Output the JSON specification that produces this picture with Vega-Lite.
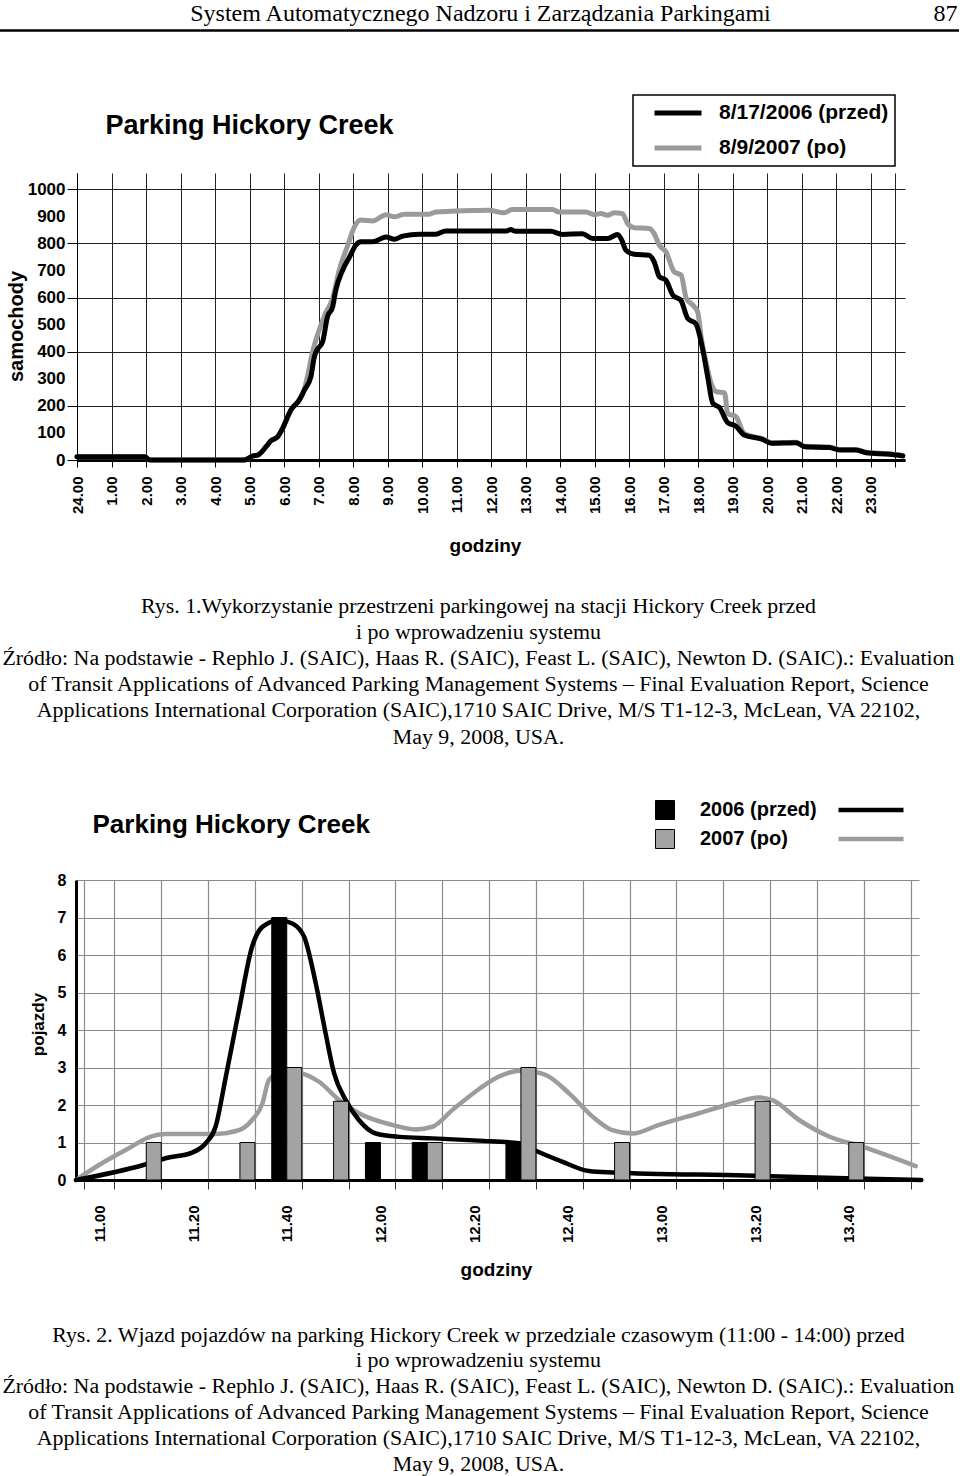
{
  "$schema": "https://vega.github.io/schema/vega-lite/v6.json",
  "padding": {"left": -8, "top": 0, "right": 0, "bottom": 0},
  "background": "white",
  "bounds": "flush",
  "spacing": 0,
  "resolve": {
    "scale": {"color": "independent", "fill": "independent", "stroke": "independent"},
    "legend": {"color": "independent", "fill": "independent", "stroke": "independent"}
  },
  "config": {
    "view": {"stroke": null},
    "axis": {"labelFont": "Liberation Sans", "titleFont": "Liberation Sans", "labelColor": "black", "titleColor": "black", "titleLimit": 2000, "labelFontWeight": "bold", "labelLimit": 400, "minExtent": 0},
    "axisY": {"minExtent": 0},
    "legend": {"strokeWidth": 1.5}
  },
  "datasets": {
    "c1": [
      {"h":0,"v":12,"seria":"8/17/2006 (przed)"},{"h":1.97,"v":12,"seria":"8/17/2006 (przed)"},{"h":2.1,"v":0,"seria":"8/17/2006 (przed)"},{"h":4.85,"v":0,"seria":"8/17/2006 (przed)"},{"h":5.1,"v":15,"seria":"8/17/2006 (przed)"},{"h":5.24,"v":18,"seria":"8/17/2006 (przed)"},{"h":5.48,"v":49,"seria":"8/17/2006 (przed)"},{"h":5.62,"v":71,"seria":"8/17/2006 (przed)"},{"h":5.82,"v":86,"seria":"8/17/2006 (przed)"},{"h":5.96,"v":117,"seria":"8/17/2006 (przed)"},{"h":6.2,"v":185,"seria":"8/17/2006 (przed)"},{"h":6.44,"v":221,"seria":"8/17/2006 (przed)"},{"h":6.59,"v":258,"seria":"8/17/2006 (przed)"},{"h":6.78,"v":308,"seria":"8/17/2006 (przed)"},{"h":6.88,"v":381,"seria":"8/17/2006 (przed)"},{"h":6.93,"v":400,"seria":"8/17/2006 (przed)"},{"h":7.12,"v":437,"seria":"8/17/2006 (przed)"},{"h":7.26,"v":529,"seria":"8/17/2006 (przed)"},{"h":7.41,"v":566,"seria":"8/17/2006 (przed)"},{"h":7.5,"v":627,"seria":"8/17/2006 (przed)"},{"h":7.7,"v":701,"seria":"8/17/2006 (przed)"},{"h":7.9,"v":750,"seria":"8/17/2006 (przed)"},{"h":8.08,"v":793,"seria":"8/17/2006 (przed)"},{"h":8.23,"v":806,"seria":"8/17/2006 (przed)"},{"h":8.57,"v":806,"seria":"8/17/2006 (przed)"},{"h":8.96,"v":824,"seria":"8/17/2006 (przed)"},{"h":9.2,"v":815,"seria":"8/17/2006 (przed)"},{"h":9.44,"v":827,"seria":"8/17/2006 (przed)"},{"h":9.93,"v":834,"seria":"8/17/2006 (przed)"},{"h":10.4,"v":834,"seria":"8/17/2006 (przed)"},{"h":10.69,"v":846,"seria":"8/17/2006 (przed)"},{"h":12.45,"v":846,"seria":"8/17/2006 (przed)"},{"h":12.57,"v":851,"seria":"8/17/2006 (przed)"},{"h":12.71,"v":845,"seria":"8/17/2006 (przed)"},{"h":13.73,"v":845,"seria":"8/17/2006 (przed)"},{"h":14.07,"v":833,"seria":"8/17/2006 (przed)"},{"h":14.65,"v":836,"seria":"8/17/2006 (przed)"},{"h":14.94,"v":818,"seria":"8/17/2006 (przed)"},{"h":15.38,"v":818,"seria":"8/17/2006 (przed)"},{"h":15.67,"v":833,"seria":"8/17/2006 (przed)"},{"h":15.79,"v":812,"seria":"8/17/2006 (przed)"},{"h":15.91,"v":775,"seria":"8/17/2006 (przed)"},{"h":16.15,"v":760,"seria":"8/17/2006 (przed)"},{"h":16.58,"v":756,"seria":"8/17/2006 (przed)"},{"h":16.73,"v":732,"seria":"8/17/2006 (przed)"},{"h":16.88,"v":677,"seria":"8/17/2006 (przed)"},{"h":17.07,"v":664,"seria":"8/17/2006 (przed)"},{"h":17.27,"v":609,"seria":"8/17/2006 (przed)"},{"h":17.51,"v":588,"seria":"8/17/2006 (przed)"},{"h":17.7,"v":523,"seria":"8/17/2006 (przed)"},{"h":17.94,"v":502,"seria":"8/17/2006 (przed)"},{"h":18.14,"v":406,"seria":"8/17/2006 (przed)"},{"h":18.28,"v":308,"seria":"8/17/2006 (przed)"},{"h":18.43,"v":209,"seria":"8/17/2006 (przed)"},{"h":18.62,"v":194,"seria":"8/17/2006 (przed)"},{"h":18.86,"v":138,"seria":"8/17/2006 (przed)"},{"h":19.1,"v":125,"seria":"8/17/2006 (przed)"},{"h":19.34,"v":92,"seria":"8/17/2006 (przed)"},{"h":19.87,"v":76,"seria":"8/17/2006 (przed)"},{"h":20.12,"v":62,"seria":"8/17/2006 (przed)"},{"h":20.85,"v":64,"seria":"8/17/2006 (przed)"},{"h":21.09,"v":49,"seria":"8/17/2006 (przed)"},{"h":21.81,"v":46,"seria":"8/17/2006 (przed)"},{"h":22.1,"v":37,"seria":"8/17/2006 (przed)"},{"h":22.58,"v":37,"seria":"8/17/2006 (przed)"},{"h":22.87,"v":27,"seria":"8/17/2006 (przed)"},{"h":23.55,"v":21,"seria":"8/17/2006 (przed)"},{"h":23.94,"v":15,"seria":"8/17/2006 (przed)"},
      {"h":0,"v":12,"seria":"8/9/2007 (po)"},{"h":1.97,"v":12,"seria":"8/9/2007 (po)"},{"h":2.1,"v":0,"seria":"8/9/2007 (po)"},{"h":4.85,"v":0,"seria":"8/9/2007 (po)"},{"h":5.1,"v":15,"seria":"8/9/2007 (po)"},{"h":5.24,"v":18,"seria":"8/9/2007 (po)"},{"h":5.48,"v":49,"seria":"8/9/2007 (po)"},{"h":5.62,"v":71,"seria":"8/9/2007 (po)"},{"h":5.82,"v":86,"seria":"8/9/2007 (po)"},{"h":5.96,"v":117,"seria":"8/9/2007 (po)"},{"h":6.2,"v":185,"seria":"8/9/2007 (po)"},{"h":6.44,"v":221,"seria":"8/9/2007 (po)"},{"h":6.59,"v":262,"seria":"8/9/2007 (po)"},{"h":6.7,"v":320,"seria":"8/9/2007 (po)"},{"h":6.83,"v":400,"seria":"8/9/2007 (po)"},{"h":7.02,"v":480,"seria":"8/9/2007 (po)"},{"h":7.2,"v":541,"seria":"8/9/2007 (po)"},{"h":7.41,"v":597,"seria":"8/9/2007 (po)"},{"h":7.6,"v":701,"seria":"8/9/2007 (po)"},{"h":7.85,"v":793,"seria":"8/9/2007 (po)"},{"h":8.04,"v":861,"seria":"8/9/2007 (po)"},{"h":8.23,"v":886,"seria":"8/9/2007 (po)"},{"h":8.57,"v":883,"seria":"8/9/2007 (po)"},{"h":8.96,"v":906,"seria":"8/9/2007 (po)"},{"h":9.2,"v":898,"seria":"8/9/2007 (po)"},{"h":9.49,"v":908,"seria":"8/9/2007 (po)"},{"h":10.21,"v":908,"seria":"8/9/2007 (po)"},{"h":10.4,"v":916,"seria":"8/9/2007 (po)"},{"h":11.94,"v":922,"seria":"8/9/2007 (po)"},{"h":12.38,"v":913,"seria":"8/9/2007 (po)"},{"h":12.62,"v":925,"seria":"8/9/2007 (po)"},{"h":13.78,"v":925,"seria":"8/9/2007 (po)"},{"h":13.97,"v":916,"seria":"8/9/2007 (po)"},{"h":14.75,"v":916,"seria":"8/9/2007 (po)"},{"h":14.99,"v":906,"seria":"8/9/2007 (po)"},{"h":15.18,"v":910,"seria":"8/9/2007 (po)"},{"h":15.38,"v":904,"seria":"8/9/2007 (po)"},{"h":15.57,"v":913,"seria":"8/9/2007 (po)"},{"h":15.81,"v":910,"seria":"8/9/2007 (po)"},{"h":15.96,"v":873,"seria":"8/9/2007 (po)"},{"h":16.15,"v":858,"seria":"8/9/2007 (po)"},{"h":16.58,"v":855,"seria":"8/9/2007 (po)"},{"h":16.73,"v":836,"seria":"8/9/2007 (po)"},{"h":16.88,"v":793,"seria":"8/9/2007 (po)"},{"h":17.07,"v":769,"seria":"8/9/2007 (po)"},{"h":17.31,"v":695,"seria":"8/9/2007 (po)"},{"h":17.51,"v":683,"seria":"8/9/2007 (po)"},{"h":17.66,"v":597,"seria":"8/9/2007 (po)"},{"h":17.85,"v":572,"seria":"8/9/2007 (po)"},{"h":17.99,"v":547,"seria":"8/9/2007 (po)"},{"h":18.09,"v":455,"seria":"8/9/2007 (po)"},{"h":18.24,"v":357,"seria":"8/9/2007 (po)"},{"h":18.38,"v":283,"seria":"8/9/2007 (po)"},{"h":18.53,"v":252,"seria":"8/9/2007 (po)"},{"h":18.77,"v":248,"seria":"8/9/2007 (po)"},{"h":18.86,"v":172,"seria":"8/9/2007 (po)"},{"h":19.1,"v":160,"seria":"8/9/2007 (po)"},{"h":19.34,"v":98,"seria":"8/9/2007 (po)"},{"h":19.87,"v":78,"seria":"8/9/2007 (po)"},{"h":20.12,"v":64,"seria":"8/9/2007 (po)"},{"h":20.85,"v":66,"seria":"8/9/2007 (po)"},{"h":21.09,"v":51,"seria":"8/9/2007 (po)"},{"h":21.81,"v":48,"seria":"8/9/2007 (po)"},{"h":22.1,"v":39,"seria":"8/9/2007 (po)"},{"h":22.58,"v":39,"seria":"8/9/2007 (po)"},{"h":22.87,"v":29,"seria":"8/9/2007 (po)"},{"h":23.55,"v":23,"seria":"8/9/2007 (po)"},{"h":23.94,"v":17,"seria":"8/9/2007 (po)"}
    ],
    "bars": [
      {"t":"11.10","rok":"2007 (po)","v":1},
      {"t":"11.30","rok":"2007 (po)","v":1},
      {"t":"11.40","rok":"2006 (przed)","v":7},
      {"t":"11.40","rok":"2007 (po)","v":3},
      {"t":"11.50","rok":"2007 (po)","v":2.1},
      {"t":"12.00","rok":"2006 (przed)","v":1},
      {"t":"12.10","rok":"2006 (przed)","v":1},
      {"t":"12.10","rok":"2007 (po)","v":1},
      {"t":"12.30","rok":"2006 (przed)","v":1},
      {"t":"12.30","rok":"2007 (po)","v":3},
      {"t":"12.50","rok":"2007 (po)","v":1},
      {"t":"13.20","rok":"2007 (po)","v":2.1},
      {"t":"13.40","rok":"2007 (po)","v":1}
    ],
    "c2": [
      {"m":0,"v":0,"seria":"2006"},{"m":14.4,"v":0.4,"seria":"2006"},{"m":19.1,"v":0.58,"seria":"2006"},{"m":24.8,"v":0.73,"seria":"2006"},{"m":27.7,"v":0.98,"seria":"2006"},{"m":29.8,"v":1.42,"seria":"2006"},{"m":32,"v":2.76,"seria":"2006"},{"m":34.8,"v":4.53,"seria":"2006"},{"m":37.6,"v":6.22,"seria":"2006"},{"m":39.8,"v":6.75,"seria":"2006"},{"m":43.4,"v":6.93,"seria":"2006"},{"m":46.2,"v":6.84,"seria":"2006"},{"m":48.7,"v":6.49,"seria":"2006"},{"m":51.2,"v":5.24,"seria":"2006"},{"m":53.3,"v":3.91,"seria":"2006"},{"m":55.1,"v":2.85,"seria":"2006"},{"m":57.6,"v":2.13,"seria":"2006"},{"m":60.4,"v":1.6,"seria":"2006"},{"m":64,"v":1.24,"seria":"2006"},{"m":69,"v":1.15,"seria":"2006"},{"m":76.1,"v":1.11,"seria":"2006"},{"m":86,"v":1.05,"seria":"2006"},{"m":94.6,"v":0.98,"seria":"2006"},{"m":97.8,"v":0.8,"seria":"2006"},{"m":103.8,"v":0.49,"seria":"2006"},{"m":109.5,"v":0.24,"seria":"2006"},{"m":114.5,"v":0.2,"seria":"2006"},{"m":143,"v":0.12,"seria":"2006"},{"m":164.4,"v":0.05,"seria":"2006"},{"m":180.5,"v":0,"seria":"2006"},
      {"m":0,"v":0,"seria":"2007"},{"m":4.9,"v":0.4,"seria":"2007"},{"m":10.6,"v":0.8,"seria":"2007"},{"m":16.3,"v":1.17,"seria":"2007"},{"m":19.1,"v":1.23,"seria":"2007"},{"m":29.8,"v":1.23,"seria":"2007"},{"m":34.8,"v":1.33,"seria":"2007"},{"m":37.6,"v":1.6,"seria":"2007"},{"m":39.8,"v":2.04,"seria":"2007"},{"m":41.2,"v":2.67,"seria":"2007"},{"m":43.4,"v":2.85,"seria":"2007"},{"m":47.6,"v":2.85,"seria":"2007"},{"m":51.9,"v":2.62,"seria":"2007"},{"m":56.2,"v":2.13,"seria":"2007"},{"m":60.4,"v":1.78,"seria":"2007"},{"m":67.5,"v":1.47,"seria":"2007"},{"m":72.5,"v":1.35,"seria":"2007"},{"m":76.1,"v":1.42,"seria":"2007"},{"m":80.4,"v":1.87,"seria":"2007"},{"m":86,"v":2.42,"seria":"2007"},{"m":90.3,"v":2.76,"seria":"2007"},{"m":95.3,"v":2.92,"seria":"2007"},{"m":100.3,"v":2.8,"seria":"2007"},{"m":105.3,"v":2.31,"seria":"2007"},{"m":110.3,"v":1.69,"seria":"2007"},{"m":114.5,"v":1.33,"seria":"2007"},{"m":118.8,"v":1.24,"seria":"2007"},{"m":124.5,"v":1.47,"seria":"2007"},{"m":133,"v":1.78,"seria":"2007"},{"m":140.1,"v":2.04,"seria":"2007"},{"m":145.8,"v":2.2,"seria":"2007"},{"m":148.7,"v":2.13,"seria":"2007"},{"m":154.4,"v":1.6,"seria":"2007"},{"m":160.8,"v":1.16,"seria":"2007"},{"m":167.9,"v":0.89,"seria":"2007"},{"m":179.3,"v":0.37,"seria":"2007"}
    ]
  },
  "vconcat": [
    {
      "width": 960, "height": 30,
      "view": {"fill": "white", "stroke": null},
      "data": {"values": []},
      "mark": "point",
      "encoding": {
        "x": {"field": "a", "type": "quantitative", "scale": {"domain": [0, 1]},
          "axis": {"orient": "bottom", "domain": true, "domainColor": "black", "domainWidth": 2.5, "ticks": false, "labels": false, "grid": false,
            "title": "System Automatycznego Nadzoru i Zarządzania Parkingami", "titleFont": "Liberation Serif", "titleFontWeight": "normal", "titleFontSize": 24,
            "titleX": 481, "titleY": -10, "titleAlign": "center", "titleBaseline": "alphabetic"}},
        "y": {"field": "b", "type": "quantitative", "scale": {"domain": [0, 1]},
          "axis": {"orient": "right", "domain": false, "ticks": false, "labels": false, "grid": false,
            "title": "87", "titleAngle": 0, "titleFont": "Liberation Serif", "titleFontWeight": "normal", "titleFontSize": 24,
            "titleX": -2, "titleY": 20, "titleAlign": "right", "titleBaseline": "alphabetic"}}
      }
    },
    {
      "width": 960, "height": 143,
      "data": {"values": []},
      "mark": "point",
      "encoding": {
        "x": {"field": "a", "type": "quantitative", "scale": {"domain": [0, 1]},
          "axis": {"orient": "bottom", "domain": false, "ticks": false, "labels": false, "grid": false,
            "title": "Parking Hickory Creek", "titleFontSize": 27, "titleFontWeight": "bold",
            "titleX": 106, "titleY": -40, "titleAlign": "left", "titleBaseline": "alphabetic"}}
      }
    },
    {
      "width": 960, "height": 287,
      "data": {"name": "c1"},
      "encoding": {
        "x": {"field": "h", "type": "quantitative",
          "scale": {"domain": [0, 24], "range": [78, 906], "nice": false, "zero": false},
          "axis": {"orient": "bottom", "values": [0,1,2,3,4,5,6,7,8,9,10,11,12,13,14,15,16,17,18,19,20,21,22,23,23.7],
            "labelExpr": "datum.value == 0 ? '24.00' : (datum.value % 1 == 0 ? datum.value + '.00' : '')",
            "labelAngle": 270, "labelAlign": "right", "labelBaseline": "middle", "labelFontSize": 15, "labelPadding": 9,
            "labelOverlap": false, "labelFlush": false,
            "tickSize": 7, "tickColor": "black", "tickWidth": 1,
            "grid": true, "gridColor": "#222222", "gridWidth": 1,
            "domain": true, "domainColor": "black", "domainWidth": 3,
            "title": "godziny", "titleFontSize": 19, "titleFontWeight": "bold",
            "titleX": 486, "titleY": 91, "titleAlign": "center", "titleBaseline": "alphabetic"}},
        "y": {"field": "v", "type": "quantitative",
          "scale": {"domain": [0, 1060], "nice": false},
          "axis": {"orient": "left", "offset": -78, "values": [0,100,200,300,400,500,600,700,800,900,1000], "format": "d",
            "labelFontSize": 17, "labelPadding": 2,
            "tickSize": 10, "tickColor": "black",
            "tickOpacity": {"condition": {"test": "datum.value % 200 == 0", "value": 1}, "value": 0},
            "grid": true, "gridColor": "#222222", "gridWidth": 1,
            "gridOpacity": {"condition": {"test": "datum.value % 200 == 0", "value": 1}, "value": 0},
            "domain": true, "domainColor": "black", "domainWidth": 1,
            "title": "samochody", "titleFontSize": 20, "titleFontWeight": "bold", "titleAngle": 270,
            "titleX": -61, "titleY": 153, "titleAlign": "center", "titleBaseline": "middle"}},
        "color": {"field": "seria", "type": "nominal",
          "scale": {"domain": ["8/17/2006 (przed)", "8/9/2007 (po)"], "range": ["#000000", "#9a9a9a"]},
          "legend": {"orient": "none", "legendX": 634, "legendY": -78, "direction": "vertical", "title": null,
            "symbolType": "stroke", "symbolSize": 2209, "symbolStrokeWidth": 5, "symbolOffset": 13,
            "labelFont": "Liberation Sans", "labelFontWeight": "bold", "labelFontSize": 21, "labelColor": "black",
            "labelOffset": 15, "labelLimit": 400, "clipHeight": 24, "rowPadding": 11, "padding": 6,
            "strokeColor": "black"}}
      },
      "layer": [
        {"transform": [{"filter": "datum.seria == '8/9/2007 (po)'"}],
         "mark": {"type": "line", "strokeWidth": 5, "interpolate": "monotone", "strokeJoin": "round", "strokeCap": "round"}},
        {"transform": [{"filter": "datum.seria == '8/17/2006 (przed)'"}],
         "mark": {"type": "line", "strokeWidth": 5, "interpolate": "monotone", "strokeJoin": "round", "strokeCap": "round"}}
      ]
    },
    {
      "width": 960, "height": 420,
      "data": {"values": []},
      "mark": "point",
      "encoding": {
        "x": {"field": "a", "type": "quantitative", "scale": {"domain": [0, 1]},
          "axis": {"orient": "bottom", "domain": false, "ticks": false, "labels": false, "grid": false,
            "title": "Parking Hickory Creek", "titleFontSize": 26, "titleFontWeight": "bold",
            "titleX": 93, "titleY": -48, "titleAlign": "left", "titleBaseline": "alphabetic"}},
        "y": {"field": "b", "type": "quantitative", "scale": {"domain": [0, 1]},
          "axis": {"orient": "right", "domain": false, "ticks": false, "labels": false, "grid": false,
            "title": ["Rys. 1.Wykorzystanie przestrzeni parkingowej na stacji Hickory Creek przed", "i po wprowadzeniu systemu", "Źródło: Na podstawie - Rephlo J. (SAIC), Haas R. (SAIC), Feast L. (SAIC), Newton D. (SAIC).: Evaluation", "of Transit Applications of Advanced Parking Management Systems – Final Evaluation Report, Science", "Applications International Corporation (SAIC),1710 SAIC Drive, M/S T1-12-3, McLean, VA 22102,", "May 9, 2008, USA."],
            "titleAngle": 0, "titleFont": "Liberation Serif", "titleFontWeight": "normal", "titleFontSize": 21.9, "titleLineHeight": 26.2,
            "titleX": -481, "titleY": 152, "titleAlign": "center", "titleBaseline": "alphabetic"}}
      }
    },
    {
      "width": 960, "height": 300,
      "resolve": {"scale": {"x": "independent"}},
      "encoding": {
        "y": {"field": "v", "type": "quantitative", "scale": {"domain": [0, 8], "nice": false},
          "axis": {"orient": "left", "offset": -77, "values": [0,1,2,3,4,5,6,7,8],
            "labelFontSize": 16, "labelPadding": 10, "ticks": false,
            "grid": true, "gridColor": "#8a8a8a", "gridWidth": 1.2,
            "domain": true, "domainColor": "black", "domainWidth": 3,
            "title": "pojazdy", "titleFontSize": 17, "titleFontWeight": "bold", "titleAngle": 270,
            "titleX": -38, "titleY": 144, "titleAlign": "center", "titleBaseline": "middle"}}
      },
      "layer": [
        {
          "data": {"name": "c2"},
          "transform": [{"filter": "datum.seria == '2007'"}],
          "mark": {"type": "line", "strokeWidth": 4.5, "interpolate": "monotone", "strokeCap": "round"},
          "encoding": {
            "x": {"field": "m", "type": "quantitative", "scale": {"domain": [0, 180], "range": [77, 920], "nice": false, "zero": false}, "axis": null},
            "stroke": {"field": "seria", "type": "nominal", "scale": {"domain": ["2006", "2007"], "range": ["#000000", "#9c9c9c"]},
              "legend": {"orient": "none", "legendX": 837, "legendY": -80, "direction": "vertical", "title": null,
                "symbolType": "stroke", "symbolSize": 4225, "symbolStrokeWidth": 4.5, "labelExpr": "''",
                "clipHeight": 20, "rowPadding": 9, "padding": 0, "labelOffset": 0}}
          }
        },
        {
          "data": {"name": "c2"},
          "transform": [{"filter": "datum.seria == '2006'"}],
          "mark": {"type": "line", "strokeWidth": 4.5, "interpolate": "monotone", "strokeCap": "round"},
          "encoding": {
            "x": {"field": "m", "type": "quantitative", "scale": {"domain": [0, 180], "range": [77, 920], "nice": false, "zero": false}, "axis": null},
            "stroke": {"field": "seria", "type": "nominal", "scale": {"domain": ["2006", "2007"], "range": ["#000000", "#9c9c9c"]}}
          }
        },
        {
          "data": {"name": "bars"},
          "mark": {"type": "bar", "stroke": "black", "strokeWidth": 1},
          "encoding": {
            "x": {"field": "t", "type": "nominal",
              "scale": {"domain": ["11.00","11.10","11.20","11.30","11.40","11.50","12.00","12.10","12.20","12.30","12.40","12.50","13.00","13.10","13.20","13.30","13.40","13.50"],
                "range": [77, 920], "paddingInner": 0.36, "paddingOuter": 0.18},
              "axis": {"orient": "bottom", "tickBand": "extent",
                "labelExpr": "indexof(['11.00','11.20','11.40','12.00','12.20','12.40','13.00','13.20','13.40'], datum.value) >= 0 ? datum.value : ''",
                "labelAngle": 270, "labelAlign": "right", "labelBaseline": "middle", "labelFontSize": 15, "labelPadding": 16,
                "labelOverlap": false,
                "tickSize": 9, "tickColor": "#333333", "tickWidth": 1,
                "grid": true, "gridColor": "#8a8a8a", "gridWidth": 1.2,
                "domain": true, "domainColor": "black", "domainWidth": 3,
                "title": "godziny", "titleFontSize": 19, "titleFontWeight": "bold",
                "titleX": 497, "titleY": 95, "titleAlign": "center", "titleBaseline": "alphabetic"}},
            "xOffset": {"field": "rok", "type": "nominal", "scale": {"domain": ["2006 (przed)", "2007 (po)"]}},
            "fill": {"field": "rok", "type": "nominal", "scale": {"domain": ["2006 (przed)", "2007 (po)"], "range": ["#000000", "#a3a3a3"]},
              "legend": {"orient": "none", "legendX": 656, "legendY": -80, "direction": "vertical", "title": null,
                "symbolType": "square", "symbolSize": 361, "symbolStrokeColor": "black", "symbolStrokeWidth": 1,
                "labelFont": "Liberation Sans", "labelFontWeight": "bold", "labelFontSize": 20, "labelColor": "black",
                "labelOffset": 25, "labelLimit": 400, "clipHeight": 20, "rowPadding": 9, "padding": 0}}
          }
        }
      ]
    },
    {
      "width": 960, "height": 296,
      "data": {"values": []},
      "mark": "point",
      "encoding": {
        "y": {"field": "b", "type": "quantitative", "scale": {"domain": [0, 1]},
          "axis": {"orient": "right", "domain": false, "ticks": false, "labels": false, "grid": false,
            "title": ["Rys. 2. Wjazd pojazdów na parking Hickory Creek w przedziale czasowym (11:00 - 14:00) przed", "i po wprowadzeniu systemu", "Źródło: Na podstawie - Rephlo J. (SAIC), Haas R. (SAIC), Feast L. (SAIC), Newton D. (SAIC).: Evaluation", "of Transit Applications of Advanced Parking Management Systems – Final Evaluation Report, Science", "Applications International Corporation (SAIC),1710 SAIC Drive, M/S T1-12-3, McLean, VA 22102,", "May 9, 2008, USA."],
            "titleAngle": 0, "titleFont": "Liberation Serif", "titleFontWeight": "normal", "titleFontSize": 21.9, "titleLineHeight": 25.8,
            "titleX": -481, "titleY": 161, "titleAlign": "center", "titleBaseline": "alphabetic"}}
      }
    }
  ]
}
